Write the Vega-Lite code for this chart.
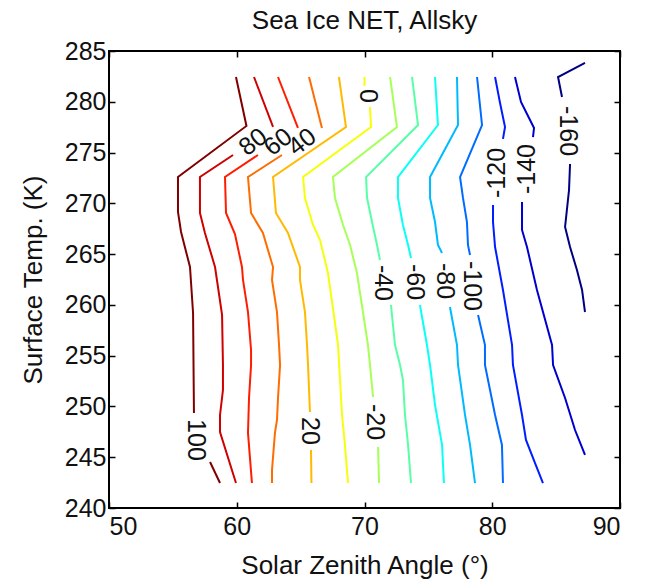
{
  "$schema": "https://vega.github.io/schema/vega-lite/v6.json",
  "width": 511,
  "height": 457,
  "autosize": "none",
  "padding": {"left": 109, "top": 51, "right": 28, "bottom": 73},
  "background": "white",
  "title": {"text": "Sea Ice NET, Allsky", "fontSize": 26, "fontWeight": "normal", "font": "Liberation Sans", "color": "#111", "offset": 5},
  "config": {
    "view": {"stroke": "black", "strokeWidth": 2},
    "axis": {"labelFont": "Liberation Sans", "titleFont": "Liberation Sans", "labelFontSize": 25, "titleFontSize": 26, "titleFontWeight": "normal", "labelColor": "#111", "titleColor": "#111", "tickColor": "black", "tickWidth": 1.5, "tickSize": -6, "domain": false, "grid": false}
  },
  "datasets": {
    "contours": [
      {"level": 100, "piece": "100a", "ord": 1, "sza": 59.94, "temp": 282.44},
      {"level": 100, "piece": "100a", "ord": 2, "sza": 60.76, "temp": 277.62},
      {"level": 100, "piece": "100a", "ord": 3, "sza": 55.40, "temp": 272.59},
      {"level": 100, "piece": "100a", "ord": 4, "sza": 55.40, "temp": 269.15},
      {"level": 100, "piece": "100a", "ord": 5, "sza": 55.64, "temp": 267.18},
      {"level": 100, "piece": "100a", "ord": 6, "sza": 56.34, "temp": 263.73},
      {"level": 100, "piece": "100a", "ord": 7, "sza": 56.58, "temp": 259.20},
      {"level": 100, "piece": "100a", "ord": 8, "sza": 56.65, "temp": 249.36},
      {"level": 100, "piece": "100b", "ord": 1, "sza": 57.91, "temp": 244.53},
      {"level": 100, "piece": "100b", "ord": 2, "sza": 58.69, "temp": 242.46},

      {"level": 80, "piece": "80a", "ord": 1, "sza": 61.35, "temp": 282.44},
      {"level": 80, "piece": "80a", "ord": 2, "sza": 62.84, "temp": 277.52},
      {"level": 80, "piece": "80b", "ord": 1, "sza": 59.71, "temp": 274.76},
      {"level": 80, "piece": "80b", "ord": 2, "sza": 57.12, "temp": 272.59},
      {"level": 80, "piece": "80b", "ord": 3, "sza": 57.12, "temp": 269.05},
      {"level": 80, "piece": "80b", "ord": 4, "sza": 57.51, "temp": 267.08},
      {"level": 80, "piece": "80b", "ord": 5, "sza": 58.30, "temp": 263.73},
      {"level": 80, "piece": "80b", "ord": 6, "sza": 58.45, "temp": 262.45},
      {"level": 80, "piece": "80b", "ord": 7, "sza": 58.85, "temp": 259.01},
      {"level": 80, "piece": "80b", "ord": 8, "sza": 58.92, "temp": 254.08},
      {"level": 80, "piece": "80b", "ord": 9, "sza": 58.92, "temp": 251.62},
      {"level": 80, "piece": "80b", "ord": 10, "sza": 58.69, "temp": 249.16},
      {"level": 80, "piece": "80b", "ord": 11, "sza": 58.69, "temp": 247.48},
      {"level": 80, "piece": "80b", "ord": 12, "sza": 59.94, "temp": 242.46},

      {"level": 60, "piece": "60a", "ord": 1, "sza": 63.23, "temp": 282.44},
      {"level": 60, "piece": "60a", "ord": 2, "sza": 64.79, "temp": 277.42},
      {"level": 60, "piece": "60b", "ord": 1, "sza": 61.66, "temp": 274.76},
      {"level": 60, "piece": "60b", "ord": 2, "sza": 59.08, "temp": 272.59},
      {"level": 60, "piece": "60b", "ord": 3, "sza": 59.16, "temp": 269.05},
      {"level": 60, "piece": "60b", "ord": 4, "sza": 59.86, "temp": 266.98},
      {"level": 60, "piece": "60b", "ord": 5, "sza": 60.41, "temp": 263.73},
      {"level": 60, "piece": "60b", "ord": 6, "sza": 60.49, "temp": 262.45},
      {"level": 60, "piece": "60b", "ord": 7, "sza": 60.88, "temp": 259.30},
      {"level": 60, "piece": "60b", "ord": 8, "sza": 61.12, "temp": 255.56},
      {"level": 60, "piece": "60b", "ord": 9, "sza": 61.12, "temp": 254.08},
      {"level": 60, "piece": "60b", "ord": 10, "sza": 60.96, "temp": 250.83},
      {"level": 60, "piece": "60b", "ord": 11, "sza": 60.88, "temp": 247.39},
      {"level": 60, "piece": "60b", "ord": 12, "sza": 61.19, "temp": 242.46},

      {"level": 40, "piece": "40a", "ord": 1, "sza": 65.66, "temp": 282.44},
      {"level": 40, "piece": "40a", "ord": 2, "sza": 66.67, "temp": 277.42},
      {"level": 40, "piece": "40b", "ord": 1, "sza": 63.54, "temp": 274.76},
      {"level": 40, "piece": "40b", "ord": 2, "sza": 60.88, "temp": 272.59},
      {"level": 40, "piece": "40b", "ord": 3, "sza": 61.12, "temp": 269.05},
      {"level": 40, "piece": "40b", "ord": 4, "sza": 62.05, "temp": 267.08},
      {"level": 40, "piece": "40b", "ord": 5, "sza": 62.84, "temp": 263.73},
      {"level": 40, "piece": "40b", "ord": 6, "sza": 62.76, "temp": 262.45},
      {"level": 40, "piece": "40b", "ord": 7, "sza": 63.15, "temp": 259.30},
      {"level": 40, "piece": "40b", "ord": 8, "sza": 63.31, "temp": 256.05},
      {"level": 40, "piece": "40b", "ord": 9, "sza": 63.39, "temp": 254.08},
      {"level": 40, "piece": "40b", "ord": 10, "sza": 63.23, "temp": 250.83},
      {"level": 40, "piece": "40b", "ord": 11, "sza": 63.15, "temp": 248.67},
      {"level": 40, "piece": "40b", "ord": 12, "sza": 62.99, "temp": 247.39},
      {"level": 40, "piece": "40b", "ord": 13, "sza": 62.76, "temp": 243.74},
      {"level": 40, "piece": "40b", "ord": 14, "sza": 62.76, "temp": 242.46},

      {"level": 20, "piece": "20a", "ord": 1, "sza": 68.00, "temp": 282.44},
      {"level": 20, "piece": "20a", "ord": 2, "sza": 68.55, "temp": 277.52},
      {"level": 20, "piece": "20a", "ord": 3, "sza": 62.84, "temp": 272.59},
      {"level": 20, "piece": "20a", "ord": 4, "sza": 63.07, "temp": 269.05},
      {"level": 20, "piece": "20a", "ord": 5, "sza": 64.01, "temp": 267.08},
      {"level": 20, "piece": "20a", "ord": 6, "sza": 64.95, "temp": 263.73},
      {"level": 20, "piece": "20a", "ord": 7, "sza": 64.95, "temp": 262.45},
      {"level": 20, "piece": "20a", "ord": 8, "sza": 65.34, "temp": 259.30},
      {"level": 20, "piece": "20a", "ord": 9, "sza": 65.50, "temp": 256.05},
      {"level": 20, "piece": "20a", "ord": 10, "sza": 65.58, "temp": 254.08},
      {"level": 20, "piece": "20a", "ord": 11, "sza": 65.73, "temp": 249.46},
      {"level": 20, "piece": "20b", "ord": 1, "sza": 65.81, "temp": 245.71},
      {"level": 20, "piece": "20b", "ord": 2, "sza": 65.85, "temp": 242.46},

      {"level": 0, "piece": "0a", "ord": 1, "sza": 70.00, "temp": 282.44},
      {"level": 0, "piece": "0a", "ord": 2, "sza": 70.00, "temp": 281.56},
      {"level": 0, "piece": "0b", "ord": 1, "sza": 70.43, "temp": 279.48},
      {"level": 0, "piece": "0b", "ord": 2, "sza": 70.51, "temp": 277.52},
      {"level": 0, "piece": "0b", "ord": 3, "sza": 65.19, "temp": 272.59},
      {"level": 0, "piece": "0b", "ord": 4, "sza": 65.34, "temp": 270.53},
      {"level": 0, "piece": "0b", "ord": 5, "sza": 65.97, "temp": 267.87},
      {"level": 0, "piece": "0b", "ord": 6, "sza": 66.52, "temp": 266.39},
      {"level": 0, "piece": "0b", "ord": 7, "sza": 67.14, "temp": 263.14},
      {"level": 0, "piece": "0b", "ord": 8, "sza": 67.53, "temp": 259.69},
      {"level": 0, "piece": "0b", "ord": 9, "sza": 67.93, "temp": 256.05},
      {"level": 0, "piece": "0b", "ord": 10, "sza": 68.24, "temp": 249.16},
      {"level": 0, "piece": "0b", "ord": 11, "sza": 68.47, "temp": 246.21},
      {"level": 0, "piece": "0b", "ord": 12, "sza": 68.71, "temp": 242.46},

      {"level": -20, "piece": "m20a", "ord": 1, "sza": 72.00, "temp": 282.44},
      {"level": -20, "piece": "m20a", "ord": 2, "sza": 72.54, "temp": 277.52},
      {"level": -20, "piece": "m20a", "ord": 3, "sza": 67.53, "temp": 272.59},
      {"level": -20, "piece": "m20a", "ord": 4, "sza": 67.69, "temp": 270.53},
      {"level": -20, "piece": "m20a", "ord": 5, "sza": 68.32, "temp": 267.87},
      {"level": -20, "piece": "m20a", "ord": 6, "sza": 68.87, "temp": 265.90},
      {"level": -20, "piece": "m20a", "ord": 7, "sza": 69.41, "temp": 263.14},
      {"level": -20, "piece": "m20a", "ord": 8, "sza": 69.88, "temp": 259.30},
      {"level": -20, "piece": "m20a", "ord": 9, "sza": 70.27, "temp": 256.05},
      {"level": -20, "piece": "m20a", "ord": 10, "sza": 70.43, "temp": 254.08},
      {"level": -20, "piece": "m20a", "ord": 11, "sza": 70.67, "temp": 250.93},
      {"level": -20, "piece": "m20b", "ord": 1, "sza": 71.06, "temp": 246.01},
      {"level": -20, "piece": "m20b", "ord": 2, "sza": 71.14, "temp": 242.46},

      {"level": -40, "piece": "m40a", "ord": 1, "sza": 73.72, "temp": 282.44},
      {"level": -40, "piece": "m40a", "ord": 2, "sza": 74.19, "temp": 277.71},
      {"level": -40, "piece": "m40a", "ord": 3, "sza": 70.12, "temp": 272.59},
      {"level": -40, "piece": "m40a", "ord": 4, "sza": 70.20, "temp": 270.53},
      {"level": -40, "piece": "m40a", "ord": 5, "sza": 70.59, "temp": 268.16},
      {"level": -40, "piece": "m40a", "ord": 6, "sza": 70.98, "temp": 265.90},
      {"level": -40, "piece": "m40a", "ord": 7, "sza": 71.21, "temp": 264.42},
      {"level": -40, "piece": "m40b", "ord": 1, "sza": 72.07, "temp": 259.99},
      {"level": -40, "piece": "m40b", "ord": 2, "sza": 72.39, "temp": 256.05},
      {"level": -40, "piece": "m40b", "ord": 3, "sza": 72.78, "temp": 254.08},
      {"level": -40, "piece": "m40b", "ord": 4, "sza": 73.01, "temp": 252.61},
      {"level": -40, "piece": "m40b", "ord": 5, "sza": 73.17, "temp": 249.16},
      {"level": -40, "piece": "m40b", "ord": 6, "sza": 73.41, "temp": 246.21},
      {"level": -40, "piece": "m40b", "ord": 7, "sza": 73.64, "temp": 242.46},

      {"level": -60, "piece": "m60a", "ord": 1, "sza": 75.52, "temp": 282.44},
      {"level": -60, "piece": "m60a", "ord": 2, "sza": 75.75, "temp": 277.71},
      {"level": -60, "piece": "m60a", "ord": 3, "sza": 72.62, "temp": 272.59},
      {"level": -60, "piece": "m60a", "ord": 4, "sza": 72.62, "temp": 270.53},
      {"level": -60, "piece": "m60a", "ord": 5, "sza": 73.01, "temp": 267.87},
      {"level": -60, "piece": "m60a", "ord": 6, "sza": 73.41, "temp": 265.90},
      {"level": -60, "piece": "m60a", "ord": 7, "sza": 73.64, "temp": 264.62},
      {"level": -60, "piece": "m60b", "ord": 1, "sza": 74.34, "temp": 259.99},
      {"level": -60, "piece": "m60b", "ord": 2, "sza": 74.89, "temp": 256.05},
      {"level": -60, "piece": "m60b", "ord": 3, "sza": 75.13, "temp": 254.08},
      {"level": -60, "piece": "m60b", "ord": 4, "sza": 75.52, "temp": 250.14},
      {"level": -60, "piece": "m60b", "ord": 5, "sza": 76.07, "temp": 246.21},
      {"level": -60, "piece": "m60b", "ord": 6, "sza": 76.22, "temp": 242.46},

      {"level": -80, "piece": "m80a", "ord": 1, "sza": 77.24, "temp": 282.44},
      {"level": -80, "piece": "m80a", "ord": 2, "sza": 77.32, "temp": 277.71},
      {"level": -80, "piece": "m80a", "ord": 3, "sza": 75.13, "temp": 272.59},
      {"level": -80, "piece": "m80a", "ord": 4, "sza": 75.13, "temp": 270.53},
      {"level": -80, "piece": "m80a", "ord": 5, "sza": 75.52, "temp": 268.16},
      {"level": -80, "piece": "m80a", "ord": 6, "sza": 75.75, "temp": 265.90},
      {"level": -80, "piece": "m80a", "ord": 7, "sza": 76.07, "temp": 265.11},
      {"level": -80, "piece": "m80b", "ord": 1, "sza": 76.69, "temp": 259.79},
      {"level": -80, "piece": "m80b", "ord": 2, "sza": 77.24, "temp": 256.05},
      {"level": -80, "piece": "m80b", "ord": 3, "sza": 77.32, "temp": 254.08},
      {"level": -80, "piece": "m80b", "ord": 4, "sza": 77.87, "temp": 249.16},
      {"level": -80, "piece": "m80b", "ord": 5, "sza": 78.26, "temp": 246.21},
      {"level": -80, "piece": "m80b", "ord": 6, "sza": 78.65, "temp": 242.46},

      {"level": -100, "piece": "m100a", "ord": 1, "sza": 78.81, "temp": 282.44},
      {"level": -100, "piece": "m100a", "ord": 2, "sza": 79.20, "temp": 277.71},
      {"level": -100, "piece": "m100a", "ord": 3, "sza": 77.48, "temp": 272.59},
      {"level": -100, "piece": "m100a", "ord": 4, "sza": 77.71, "temp": 270.53},
      {"level": -100, "piece": "m100a", "ord": 5, "sza": 78.02, "temp": 268.16},
      {"level": -100, "piece": "m100a", "ord": 6, "sza": 78.10, "temp": 265.90},
      {"level": -100, "piece": "m100a", "ord": 7, "sza": 78.26, "temp": 264.91},
      {"level": -100, "piece": "m100b", "ord": 1, "sza": 78.89, "temp": 259.01},
      {"level": -100, "piece": "m100b", "ord": 2, "sza": 79.43, "temp": 256.05},
      {"level": -100, "piece": "m100b", "ord": 3, "sza": 79.43, "temp": 254.08},
      {"level": -100, "piece": "m100b", "ord": 4, "sza": 80.22, "temp": 249.16},
      {"level": -100, "piece": "m100b", "ord": 5, "sza": 80.76, "temp": 246.21},
      {"level": -100, "piece": "m100b", "ord": 6, "sza": 80.84, "temp": 242.46},

      {"level": -120, "piece": "m120a", "ord": 1, "sza": 80.22, "temp": 282.44},
      {"level": -120, "piece": "m120a", "ord": 2, "sza": 80.61, "temp": 279.88},
      {"level": -120, "piece": "m120a", "ord": 3, "sza": 81.00, "temp": 277.52},
      {"level": -120, "piece": "m120a", "ord": 4, "sza": 80.84, "temp": 276.34},
      {"level": -120, "piece": "m120b", "ord": 1, "sza": 80.06, "temp": 269.84},
      {"level": -120, "piece": "m120b", "ord": 2, "sza": 80.06, "temp": 268.16},
      {"level": -120, "piece": "m120b", "ord": 3, "sza": 80.22, "temp": 265.70},
      {"level": -120, "piece": "m120b", "ord": 4, "sza": 80.84, "temp": 261.47},
      {"level": -120, "piece": "m120b", "ord": 5, "sza": 81.55, "temp": 256.05},
      {"level": -120, "piece": "m120b", "ord": 6, "sza": 81.62, "temp": 254.08},
      {"level": -120, "piece": "m120b", "ord": 7, "sza": 82.33, "temp": 249.16},
      {"level": -120, "piece": "m120b", "ord": 8, "sza": 82.64, "temp": 246.70},
      {"level": -120, "piece": "m120b", "ord": 9, "sza": 83.35, "temp": 244.43},
      {"level": -120, "piece": "m120b", "ord": 10, "sza": 83.97, "temp": 242.46},

      {"level": -140, "piece": "m140a", "ord": 1, "sza": 81.78, "temp": 282.44},
      {"level": -140, "piece": "m140a", "ord": 2, "sza": 82.25, "temp": 279.98},
      {"level": -140, "piece": "m140a", "ord": 3, "sza": 83.27, "temp": 277.42},
      {"level": -140, "piece": "m140a", "ord": 4, "sza": 83.19, "temp": 276.53},
      {"level": -140, "piece": "m140b", "ord": 1, "sza": 82.33, "temp": 270.13},
      {"level": -140, "piece": "m140b", "ord": 2, "sza": 82.33, "temp": 267.38},
      {"level": -140, "piece": "m140b", "ord": 3, "sza": 82.72, "temp": 265.70},
      {"level": -140, "piece": "m140b", "ord": 4, "sza": 83.50, "temp": 261.47},
      {"level": -140, "piece": "m140b", "ord": 5, "sza": 84.68, "temp": 256.05},
      {"level": -140, "piece": "m140b", "ord": 6, "sza": 84.76, "temp": 254.08},
      {"level": -140, "piece": "m140b", "ord": 7, "sza": 85.70, "temp": 250.83},
      {"level": -140, "piece": "m140b", "ord": 8, "sza": 86.48, "temp": 247.68},
      {"level": -140, "piece": "m140b", "ord": 9, "sza": 87.26, "temp": 245.22},

      {"level": -160, "piece": "m160a", "ord": 1, "sza": 87.26, "temp": 283.82},
      {"level": -160, "piece": "m160a", "ord": 2, "sza": 85.15, "temp": 282.44},
      {"level": -160, "piece": "m160a", "ord": 3, "sza": 85.46, "temp": 280.47},
      {"level": -160, "piece": "m160b", "ord": 1, "sza": 86.09, "temp": 273.87},
      {"level": -160, "piece": "m160b", "ord": 2, "sza": 86.01, "temp": 271.31},
      {"level": -160, "piece": "m160b", "ord": 3, "sza": 85.70, "temp": 267.67},
      {"level": -160, "piece": "m160b", "ord": 4, "sza": 86.09, "temp": 265.70},
      {"level": -160, "piece": "m160b", "ord": 5, "sza": 86.63, "temp": 263.44},
      {"level": -160, "piece": "m160b", "ord": 6, "sza": 87.03, "temp": 261.47},
      {"level": -160, "piece": "m160b", "ord": 7, "sza": 87.26, "temp": 259.30}
    ],
    "labelsDown": [
      {"label": "100", "sza": 56.81, "temp": 246.70},
      {"label": "20", "sza": 65.73, "temp": 247.58},
      {"label": "0", "sza": 70.27, "temp": 280.57},
      {"label": "-20", "sza": 70.82, "temp": 248.47},
      {"label": "-40", "sza": 71.45, "temp": 262.16},
      {"label": "-60", "sza": 73.95, "temp": 262.25},
      {"label": "-80", "sza": 76.30, "temp": 262.35},
      {"label": "-100", "sza": 78.42, "temp": 261.86},
      {"label": "-160", "sza": 85.93, "temp": 277.12}
    ],
    "labelsUp": [
      {"label": "-120", "sza": 80.37, "temp": 272.99},
      {"label": "-140", "sza": 82.72, "temp": 273.38}
    ],
    "labelsDiag": [
      {"label": "80", "sza": 61.27, "temp": 276.04},
      {"label": "60", "sza": 63.23, "temp": 276.04},
      {"label": "40", "sza": 65.11, "temp": 276.04}
    ]
  },
  "layer": [
    {
      "data": {"name": "contours"},
      "mark": {"type": "line", "strokeWidth": 2},
      "encoding": {
        "x": {"field": "sza", "type": "quantitative", "scale": {"domain": [50, 90], "nice": false, "zero": false}, "axis": {"orient": "bottom", "values": [50, 60, 70, 80, 90], "title": "Solar Zenith Angle (°)", "labelPadding": 12, "titlePadding": 13}},
        "y": {"field": "temp", "type": "quantitative", "scale": {"domain": [240, 285], "nice": false, "zero": false}, "axis": {"orient": "left", "values": [240, 245, 250, 255, 260, 265, 270, 275, 280, 285], "title": "Surface Temp. (K)", "labelPadding": 9, "titlePadding": 18}},
        "color": {"field": "level", "type": "ordinal", "scale": {"domain": [100, 80, 60, 40, 20, 0, -20, -40, -60, -80, -100, -120, -140, -160], "range": ["#800000", "#CE0000", "#FF1D00", "#FF6C00", "#FFBA00", "#F5FF0A", "#A7FF58", "#58FFA7", "#0AFFF5", "#00BAFF", "#006CFF", "#001DFF", "#0000CE", "#000080"]}, "legend": null},
        "detail": {"field": "piece", "type": "nominal"},
        "order": {"field": "ord", "type": "quantitative"}
      }
    },
    {
      "data": {"name": "labelsDown"},
      "mark": {"type": "text", "angle": 90, "font": "Liberation Sans", "fontSize": 25, "color": "#111", "align": "center", "baseline": "middle"},
      "encoding": {
        "x": {"field": "sza", "type": "quantitative", "axis": {"orient": "top", "values": [50, 60, 70, 80, 90], "labels": false, "title": null}},
        "y": {"field": "temp", "type": "quantitative", "axis": {"orient": "right", "values": [240, 245, 250, 255, 260, 265, 270, 275, 280, 285], "labels": false, "title": null}},
        "text": {"field": "label"}
      }
    },
    {
      "data": {"name": "labelsUp"},
      "mark": {"type": "text", "angle": -90, "font": "Liberation Sans", "fontSize": 25, "color": "#111", "align": "center", "baseline": "middle"},
      "encoding": {
        "x": {"field": "sza", "type": "quantitative", "axis": null},
        "y": {"field": "temp", "type": "quantitative", "axis": null},
        "text": {"field": "label"}
      }
    },
    {
      "data": {"name": "labelsDiag"},
      "mark": {"type": "text", "angle": -38, "font": "Liberation Sans", "fontSize": 25, "color": "#111", "align": "center", "baseline": "middle"},
      "encoding": {
        "x": {"field": "sza", "type": "quantitative", "axis": null},
        "y": {"field": "temp", "type": "quantitative", "axis": null},
        "text": {"field": "label"}
      }
    }
  ],
  "resolve": {"axis": {"x": "independent", "y": "independent"}}
}
